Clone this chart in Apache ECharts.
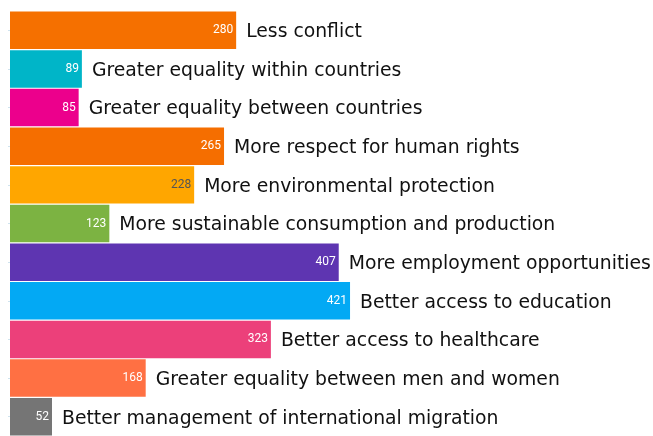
<!DOCTYPE html>
<html><head><meta charset="utf-8">
<script src="https://cdn.jsdelivr.net/npm/echarts@6/dist/echarts.min.js"></script>
<style>html,body{margin:0;padding:0;background:#fff}#c{width:653px;height:436px}</style>
</head><body><div id="c"></div>
<script>
const categories = ["Less conflict","Greater equality within countries","Greater equality between countries","More respect for human rights","More environmental protection","More sustainable consumption and production","More employment opportunities","Better access to education","Better access to healthcare","Greater equality between men and women","Better management of international migration"];
const values = [280, 89, 85, 265, 228, 123, 407, 421, 323, 168, 52];
const colors = ["#F57000","#00B5C8","#EC008C","#F56E00","#FFA600","#7CB342","#5E35B1","#03A9F4","#EC407A","#FF7043","#757575"];
const valueLabelColors = ["#fff","#fff","#fff","#fff","#555","#fff","#fff","#fff","#fff","#fff","#fff"];

const chart = echarts.init(document.getElementById('c'));
chart.setOption({
  animation:false,
  grid:{left:10,right:13,top:11,bottom:0,containLabel:false},
  xAxis:{type:'value',min:0,max:780,show:false},
  yAxis:{type:'category',data:categories,inverse:true,
    axisLine:{show:false},axisLabel:{show:false},
    axisTick:{show:true,length:2,lineStyle:{color:'#cfe3ee'},alignWithLabel:true}},
  series:[
    {type:'bar',data:values.map((v,i)=>({value:v,itemStyle:{color:colors[i]},label:{color:valueLabelColors[i]}})),
     barCategoryGap:'3%',
     label:{show:true,position:'insideRight',distance:3,fontFamily:'Roboto',fontSize:12,color:'#fff'}},
    {type:'bar',data:values,barGap:'-100%',barCategoryGap:'3%',silent:true,
     itemStyle:{color:'rgba(0,0,0,0)'},
     label:{show:true,position:'right',distance:10,offset:[0,2],fontFamily:'DejaVu Sans',fontSize:18.8,color:'#111',
       formatter:p=>categories[p.dataIndex]}}
  ]
});
</script></body></html>
